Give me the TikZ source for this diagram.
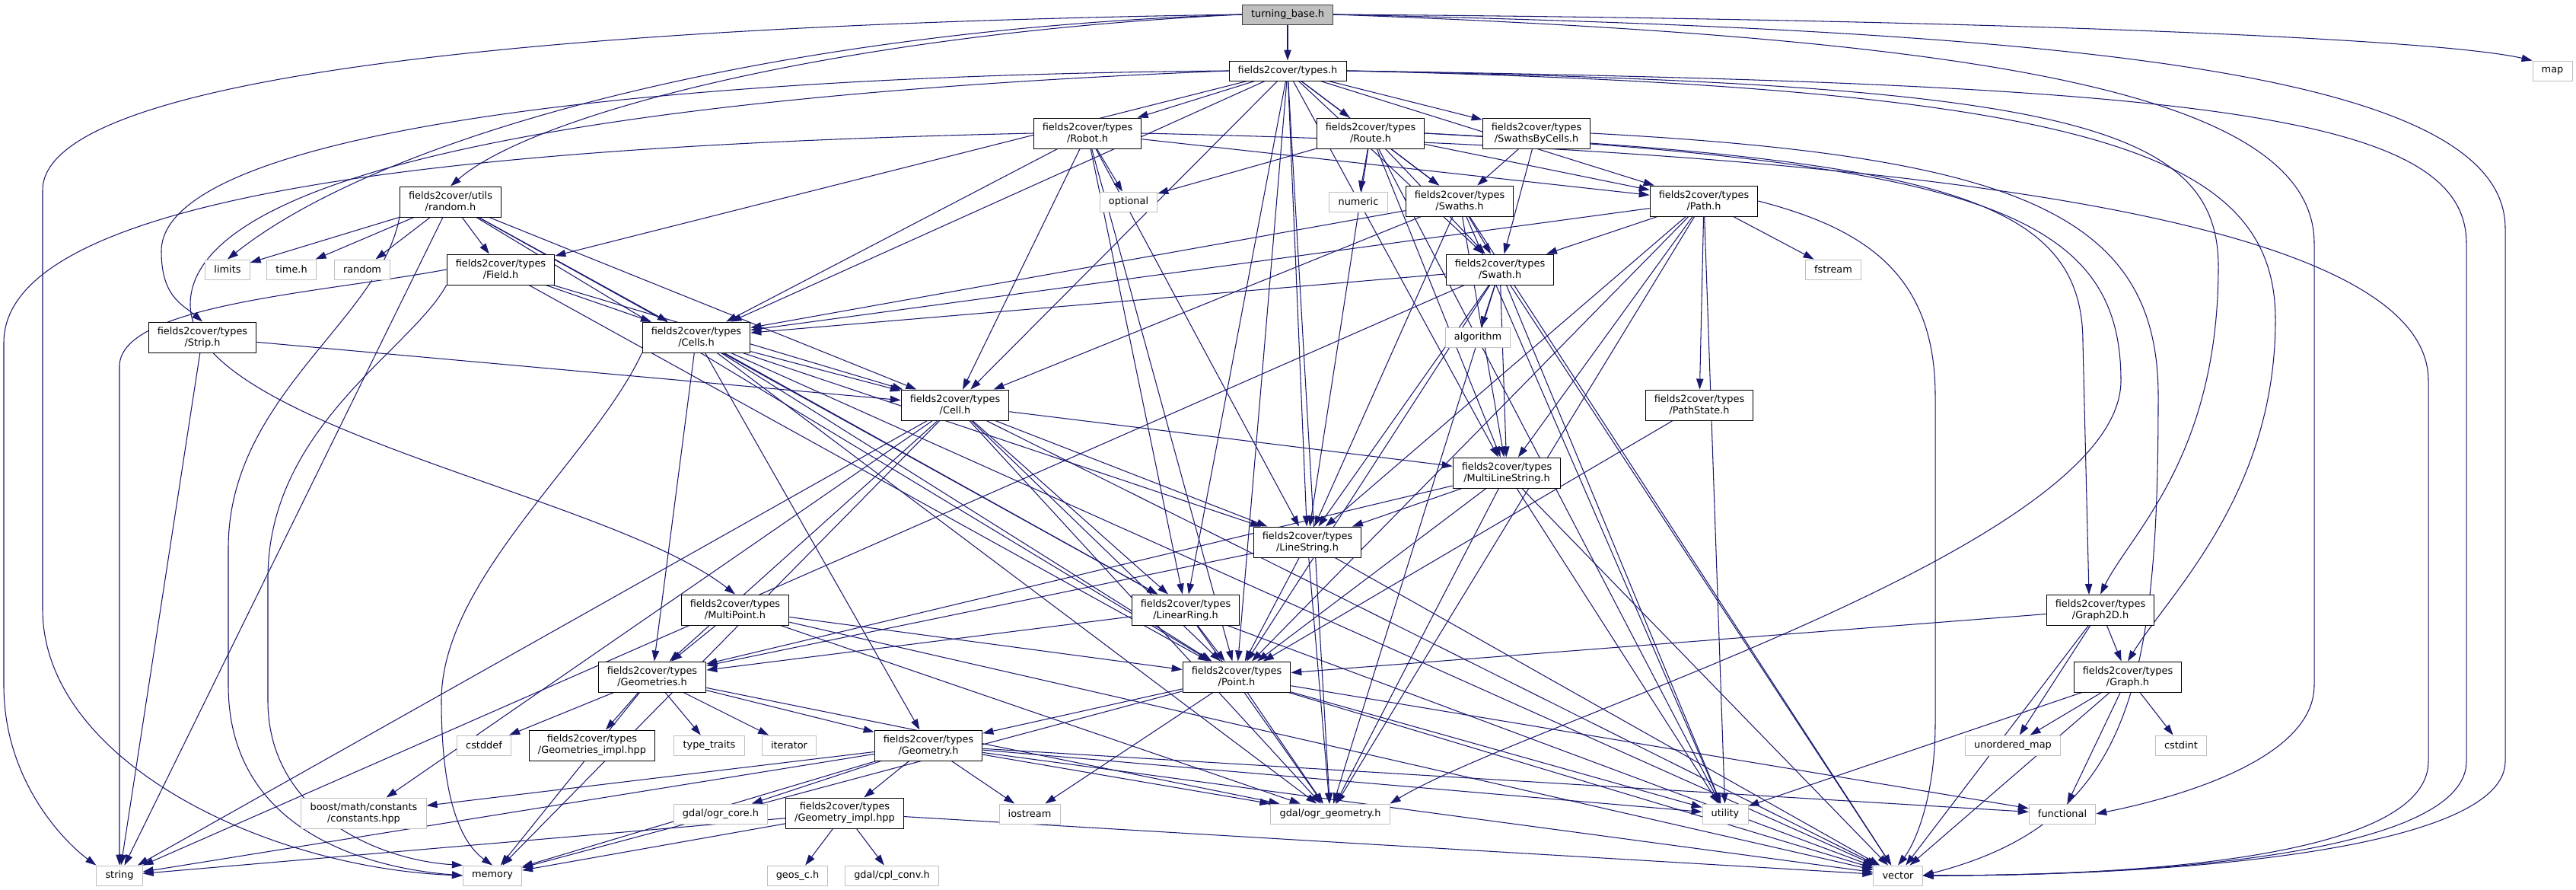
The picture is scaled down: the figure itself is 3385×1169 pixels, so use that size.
\documentclass[tikz,border=0pt]{standalone}
\usepackage{fontspec}
\setmainfont{DejaVu Sans}
\usetikzlibrary{arrows.meta}
\pgfdeclarelayer{background}
\pgfsetlayers{background,main}
\definecolor{edgeblue}{RGB}{25,25,112}
\definecolor{sysgray}{RGB}{191,191,191}
\definecolor{rootgray}{RGB}{191,191,191}
\tikzset{
  hdr/.style={draw, line width=0.8pt, fill=white, inner xsep=3.5mm, inner ysep=0pt,
    align=center, font=\fontsize{11}{12.8}\selectfont},
  proj/.style={hdr, minimum height=12mm},
  projone/.style={hdr, minimum height=7.8mm},
  sys/.style={hdr, draw=sysgray, minimum height=7.8mm},
  sysdbl/.style={hdr, draw=sysgray, minimum height=12mm},
  rootbox/.style={hdr, fill=rootgray, draw=black!75, minimum height=7.8mm},
  dep/.style={draw=edgeblue, line width=0.9pt, -{Triangle[length=4.2mm,width=2.8mm]}},
}
\begin{document}
\begin{tikzpicture}[x=0.3mm, y=-0.3mm]
\useasboundingbox (0,0) rectangle (3385,1169);
% headers
\node[rootbox] (tb) at (1692,19) {turning\_base.h};
\node[projone] (types) at (1692,93) {fields2cover/types.h};
\node[sys] (map) at (3354,93) {map};
\node[proj] (robot) at (1429,175) {fields2cover/types\\/Robot.h};
\node[proj] (route) at (1801,175) {fields2cover/types\\/Route.h};
\node[proj] (sbc) at (2019,175) {fields2cover/types\\/SwathsByCells.h};
\node[sys] (optional) at (1483,265) {optional};
\node[sys] (numeric) at (1785,265) {numeric};
\node[proj] (swaths) at (1918,264) {fields2cover/types\\/Swaths.h};
\node[proj] (path) at (2239,264) {fields2cover/types\\/Path.h};
\node[proj] (rnd) at (592,265) {fields2cover/utils\\/random.h};
\node[sys] (limits) at (299,354) {limits};
\node[sys] (timeh) at (383,354) {time.h};
\node[sys] (random) at (476,354) {random};
\node[proj] (field) at (658,354) {fields2cover/types\\/Field.h};
\node[proj] (swath) at (1971,354) {fields2cover/types\\/Swath.h};
\node[sys] (fstream) at (2409,354) {fstream};
\node[proj] (strip) at (266,443) {fields2cover/types\\/Strip.h};
\node[proj] (cells) at (915,443) {fields2cover/types\\/Cells.h};
\node[sys] (algorithm) at (1942,443) {algorithm};
\node[proj] (cell) at (1255,532) {fields2cover/types\\/Cell.h};
\node[proj] (pstate) at (2233,532) {fields2cover/types\\/PathState.h};
\node[proj] (mls) at (1980,621) {fields2cover/types\\/MultiLineString.h};
\node[proj] (ls) at (1718,712) {fields2cover/types\\/LineString.h};
\node[proj] (mpt) at (966,801) {fields2cover/types\\/MultiPoint.h};
\node[proj] (lr) at (1558,801) {fields2cover/types\\/LinearRing.h};
\node[proj] (g2d) at (2760,801) {fields2cover/types\\/Graph2D.h};
\node[proj] (geoms) at (857,889) {fields2cover/types\\/Geometries.h};
\node[proj] (point) at (1625,889) {fields2cover/types\\/Point.h};
\node[proj] (graph) at (2796,889) {fields2cover/types\\/Graph.h};
\node[sys] (cstddef) at (636,979) {cstddef};
\node[proj] (gimpl) at (778,979) {fields2cover/types\\/Geometries\_impl.hpp};
\node[sys] (ttraits) at (932,979) {type\_traits};
\node[sys] (iter) at (1037,979) {iterator};
\node[proj] (geom) at (1220,979) {fields2cover/types\\/Geometry.h};
\node[sys] (umap) at (2645,979) {unordered\_map};
\node[sys] (cstdint) at (2866,979) {cstdint};
\node[sysdbl] (boost) at (478,1068) {boost/math/constants\\/constants.hpp};
\node[sys] (ogrcore) at (947,1069) {gdal/ogr\_core.h};
\node[proj] (geomimpl) at (1110,1068) {fields2cover/types\\/Geometry\_impl.hpp};
\node[sys] (iostream) at (1353,1069) {iostream};
\node[sys] (ogrgeom) at (1748,1069) {gdal/ogr\_geometry.h};
\node[sys] (utility) at (2267,1069) {utility};
\node[sys] (functional) at (2710,1069) {functional};
\node[sys] (string) at (157,1150) {string};
\node[sys] (memory) at (647,1150) {memory};
\node[sys] (geos) at (1048,1150) {geos\_c.h};
\node[sys] (cplconv) at (1172,1150) {gdal/cpl\_conv.h};
\node[sys] (vector) at (2494,1150) {vector};

\begin{pgfonlayer}{background}
% include edges
\draw[dep] (tb) -- (types);
\draw[dep] (tb.east) .. controls (2600,25) and (3200,50) .. (map.north west);
\draw[dep] (tb.west) .. controls (900,30) and (56,80) .. (56,250) -- (56,800) .. controls (56,1000) and (350,1140) .. (memory.west);
\draw[dep] (tb.west) .. controls (1000,40) and (500,180) .. (limits.north);
\draw[dep] (tb.west) .. controls (1100,45) and (700,150) .. (rnd.north);
\draw[dep] (tb.east) .. controls (2700,40) and (3292,90) .. (3292,300) -- (3292,1000) .. controls (3292,1110) and (2900,1150) .. (vector.east);
\draw[dep] (tb.east) .. controls (2600,50) and (3041,120) .. (3041,320) -- (3041,900) .. controls (3041,1000) and (2850,1050) .. (functional.east);

\foreach \t in {robot,route,sbc,swaths,path,swath,cells,cell,field,mls,ls,lr,point,ogrgeom}
  \draw[dep] (types) -- (\t);
\draw[dep] (types.west) .. controls (800,100) and (212,180) .. (212,330) .. controls (212,390) and (240,400) .. (strip.north);
\draw[dep] (types.west) .. controls (700,130) and (250,240) .. (250,400) .. controls (250,560) and (800,650) .. (mpt.north);
\draw[dep] (types.east) .. controls (2700,110) and (2915,160) .. (2915,350) .. controls (2915,600) and (2800,700) .. (g2d.north);
\draw[dep] (types.east) .. controls (2750,115) and (2990,200) .. (2990,420) .. controls (2990,650) and (2850,780) .. (graph.north);
\draw[dep] (types.east) .. controls (2900,110) and (3241,150) .. (3241,320) -- (3241,1000) .. controls (3241,1110) and (2900,1150) .. (vector.east);

\foreach \t in {optional,cells,cell,point,ls,lr,path}
  \draw[dep] (robot) -- (\t);
\draw[dep] (robot.west) .. controls (700,190) and (5,240) .. (5,450) -- (5,900) .. controls (5,1030) and (90,1110) .. (string.north west);
\draw[dep] (robot.east) .. controls (2600,200) and (3191,300) .. (3191,500) -- (3191,1000) .. controls (3191,1110) and (2900,1150) .. (vector.east);

\foreach \t in {optional,numeric,swaths,swath,path,mls,ls,utility}
  \draw[dep] (route) -- (\t);
\draw[dep] (route.east) .. controls (2550,210) and (2737,260) .. (2737,450) -- (2745,781);
\draw[dep] (route.east) .. controls (2600,215) and (2787,280) .. (2787,500) .. controls (2787,720) and (2000,950) .. (ogrgeom.north east);

\foreach \t in {swaths,swath}
  \draw[dep] (sbc) -- (\t);
\draw[dep] (sbc.east) .. controls (2650,205) and (2836,280) .. (2836,520) .. controls (2836,900) and (2800,1080) .. (vector.east);

\foreach \t in {swath,cells,cell,ls,mls,utility,vector}
  \draw[dep] (swaths) -- (\t);

\foreach \t in {swath,pstate,mls,ls,point,fstream,ogrgeom,utility,cells}
  \draw[dep] (path) -- (\t);
\draw[dep] (path.east) .. controls (2450,300) and (2543,360) .. (2543,520) -- (2543,950) .. controls (2543,1050) and (2515,1110) .. (vector.north);

\foreach \t in {limits,timeh,random,field,cells,cell,point,lr,string}
  \draw[dep] (rnd) -- (\t);
\draw[dep] (rnd.south west) .. controls (500,420) and (300,520) .. (300,720) -- (300,900) .. controls (300,1090) and (480,1140) .. (memory.west);

\foreach \t in {cells,cell,point}
  \draw[dep] (field) -- (\t);
\draw[dep] (field.west) .. controls (420,385) and (160,400) .. (157,480) -- (string.north);
\draw[dep] (field.south west) .. controls (540,460) and (352,560) .. (352,760) -- (352,920) .. controls (352,1070) and (500,1130) .. (memory.north west);

\foreach \t in {cells,string,algorithm,ls,mls,point,ogrgeom,utility,vector}
  \draw[dep] (swath) -- (\t);

\foreach \t in {cell,string}
  \draw[dep] (strip) -- (\t);

\foreach \t in {cell,geoms,point,ls,lr,ogrgeom,vector,geom}
  \draw[dep] (cells) -- (\t);
\draw[dep] (cells.south west) .. controls (780,600) and (580,760) .. (580,920) .. controls (580,1060) and (610,1110) .. (memory.north);

\foreach \t in {geoms,point,ls,lr,mls,ogrgeom,string,boost,vector,memory}
  \draw[dep] (cell) -- (\t);

\draw[dep] (pstate) -- (point);

\foreach \t in {ls,geoms,point,ogrgeom,utility,vector}
  \draw[dep] (mls) -- (\t);

\foreach \s in {ls,lr,mpt}
  \foreach \t in {geoms,point,ogrgeom,vector}
    \draw[dep] (\s) -- (\t);

\foreach \t in {graph,umap,point,vector}
  \draw[dep] (g2d) -- (\t);

\foreach \t in {umap,cstdint,functional,utility,vector}
  \draw[dep] (graph) -- (\t);

\foreach \t in {cstddef,gimpl,ttraits,iter,geom,memory,ogrgeom}
  \draw[dep] (geoms) -- (\t);

\foreach \t in {geom,iostream,ogrgeom,utility,vector,functional,memory}
  \draw[dep] (point) -- (\t);

\foreach \t in {ogrcore,geomimpl,iostream,ogrgeom,utility,vector,functional,boost,string,memory}
  \draw[dep] (geom) -- (\t);

\foreach \t in {geos,cplconv,string,memory,vector}
  \draw[dep] (geomimpl) -- (\t);
\end{pgfonlayer}
\end{tikzpicture}
\end{document}
